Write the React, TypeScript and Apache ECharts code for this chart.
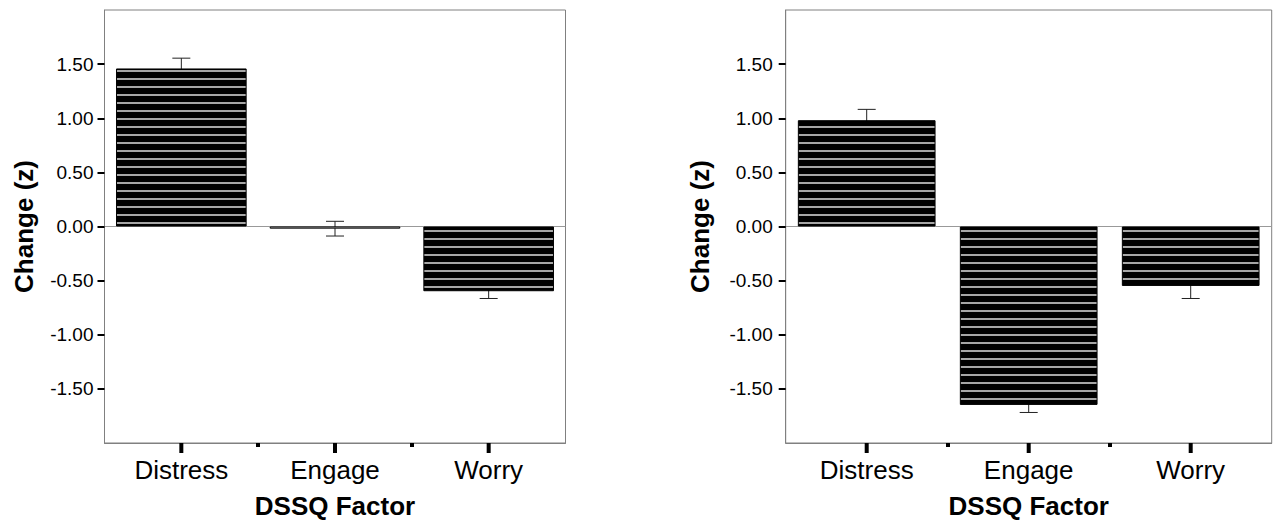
import React, { useEffect, useRef } from "react";
import * as echarts from "echarts";

const categories = ["Distress", "Engage", "Worry"];
const leftMeans = [1.46, -0.02, -0.598];
const leftErrors = [0.095, 0.068, 0.067];
const rightMeans = [0.982, -1.648, -0.549];
const rightErrors = [0.1, 0.07, 0.116];
const yTickValues = [-1.5, -1, -0.5, 0, 0.5, 1, 1.5];
const boundaryTicks = [1, 2];
const xTitle = "DSSQ Factor";
const yTitle = "Change (z)";

const Y_MIN = -2;
const Y_MAX = 2;
const FONT = "'Liberation Sans', Arial, sans-serif";

function makeStripeCanvas() {
  const c = document.createElement("canvas");
  c.width = 4;
  c.height = 8;
  const ctx = c.getContext("2d")!;
  ctx.fillStyle = "#000";
  ctx.fillRect(0, 0, 4, 8);
  ctx.fillStyle = "#a6a6a6";
  ctx.fillRect(0, 6, 4, 2);
  return c;
}

export default function App() {
  const ref = useRef<HTMLDivElement>(null);
  useEffect(() => {
    if (!ref.current) return;
    const chart = echarts.init(ref.current, null, { renderer: "svg" });
    const stripe = {
      image: makeStripeCanvas(),
      repeat: "repeat",
      imageWidth: 4,
      imageHeight: 8,
    };

    const grids = [
      { left: 104.5, top: 10, width: 461, height: 433 },
      { left: 785.7, top: 10, width: 486, height: 433 },
    ];
    const panels = [
      { means: leftMeans, errs: leftErrors, labelMargin: 11, nameGap: 68 },
      { means: rightMeans, errs: rightErrors, labelMargin: 13, nameGap: 73 },
    ];

    const xAxis: any[] = [];
    const yAxis: any[] = [];
    const series: any[] = [];

    panels.forEach((p, gi) => {
      xAxis.push({
        type: "category",
        gridIndex: gi,
        data: categories,
        position: "bottom",
        axisLine: { show: true, onZero: false, lineStyle: { color: "#808080", width: 1 } },
        axisTick: { show: false },
        axisLabel: {
          color: "#000",
          fontSize: 26,
          fontFamily: FONT,
          margin: 14,
        },
        name: xTitle,
        nameLocation: "middle",
        nameGap: 50,
        nameTextStyle: {
          color: "#000",
          fontSize: 26,
          fontWeight: "bold",
          fontFamily: FONT,
        },
      });
      xAxis.push({
        type: "value",
        gridIndex: gi,
        min: 0,
        max: 3,
        interval: 1,
        position: "bottom",
        axisLine: { show: false, onZero: false },
        axisLabel: { show: false },
        splitLine: { show: false },
        axisTick: {
          show: true,
          customValues: boundaryTicks,
          length: 4,
          lineStyle: { color: "#000", width: 4 },
        },
      });
      yAxis.push({
        type: "value",
        gridIndex: gi,
        min: Y_MIN,
        max: Y_MAX,
        interval: 0.5,
        axisLine: { show: true, lineStyle: { color: "#808080", width: 1 } },
        splitLine: { show: false },
        axisTick: {
          show: true,
          customValues: yTickValues,
          length: 7,
          lineStyle: { color: "#000", width: 2 },
        },
        axisLabel: {
          customValues: yTickValues,
          color: "#000",
          fontSize: 19,
          fontFamily: FONT,
          margin: p.labelMargin,
          padding: [7, 0, 0, 0],
          formatter: (v: number) => v.toFixed(2),
        },
        name: yTitle,
        nameLocation: "middle",
        nameGap: p.nameGap,
        nameTextStyle: {
          color: "#000",
          fontSize: 26,
          fontWeight: "bold",
          fontFamily: FONT,
        },
      });

      // category-centre ticks below the plot
      series.push({
        type: "custom",
        xAxisIndex: gi * 2,
        yAxisIndex: gi,
        z: 5,
        silent: true,
        clip: false,
        data: categories.map((c, i) => [i, Y_MIN]),
        encode: { x: 0, y: 1 },
        renderItem: (params: any, api: any) => {
          const pt = api.coord([api.value(0), Y_MIN]);
          return {
            type: "rect",
            shape: { x: pt[0] - 2, y: pt[1], width: 4, height: 10 },
            style: { fill: "#000" },
          };
        },
      });

      series.push({
        type: "custom",
        xAxisIndex: gi * 2,
        yAxisIndex: gi,
        z: 1,
        silent: true,
        data: p.means.map((m, i) => [i, m, p.errs[i]]),
        encode: { x: 0, y: 1 },
        renderItem: (params: any, api: any) => {
          const i = api.value(0);
          const m = api.value(1);
          const e = api.value(2);
          const top = api.coord([i, m + e]);
          const bot = api.coord([i, m - e]);
          const half = 9;
          const style = { stroke: "#222", lineWidth: 1 };
          return {
            type: "group",
            children: [
              { type: "line", shape: { x1: top[0], y1: top[1], x2: bot[0], y2: bot[1] }, style },
              { type: "line", shape: { x1: top[0] - half, y1: top[1], x2: top[0] + half, y2: top[1] }, style },
              { type: "line", shape: { x1: bot[0] - half, y1: bot[1], x2: bot[0] + half, y2: bot[1] }, style },
            ],
          };
        },
      });

      series.push({
        type: "bar",
        xAxisIndex: gi * 2,
        yAxisIndex: gi,
        z: 2,
        barWidth: "85%",
        data: p.means.map((m) => ({
          value: m,
          itemStyle: Math.abs(m) < 0.05 ? { color: "#fff" } : undefined,
        })),
        itemStyle: { color: stripe, borderColor: "#000", borderWidth: 1 },
        markLine: {
          silent: true,
          symbol: ["none", "none"],
          label: { show: false },
          lineStyle: { color: "#999", width: 1, type: "solid" },
          data: [{ yAxis: 0 }],
          z: 0,
        },
      });
    });

    chart.setOption({
      animation: false,
      textStyle: { fontFamily: FONT },
      grid: grids.map((g) => ({
        ...g,
        show: true,
        borderColor: "#808080",
        borderWidth: 1,
        backgroundColor: "transparent",
        containLabel: false,
      })),
      xAxis,
      yAxis,
      series,
    });
    return () => chart.dispose();
  }, []);
  return (
    <div
      ref={ref}
      style={{ position: "fixed", left: 0, top: 0, width: 1274, height: 524, background: "#fff" }}
    />
  );
}
